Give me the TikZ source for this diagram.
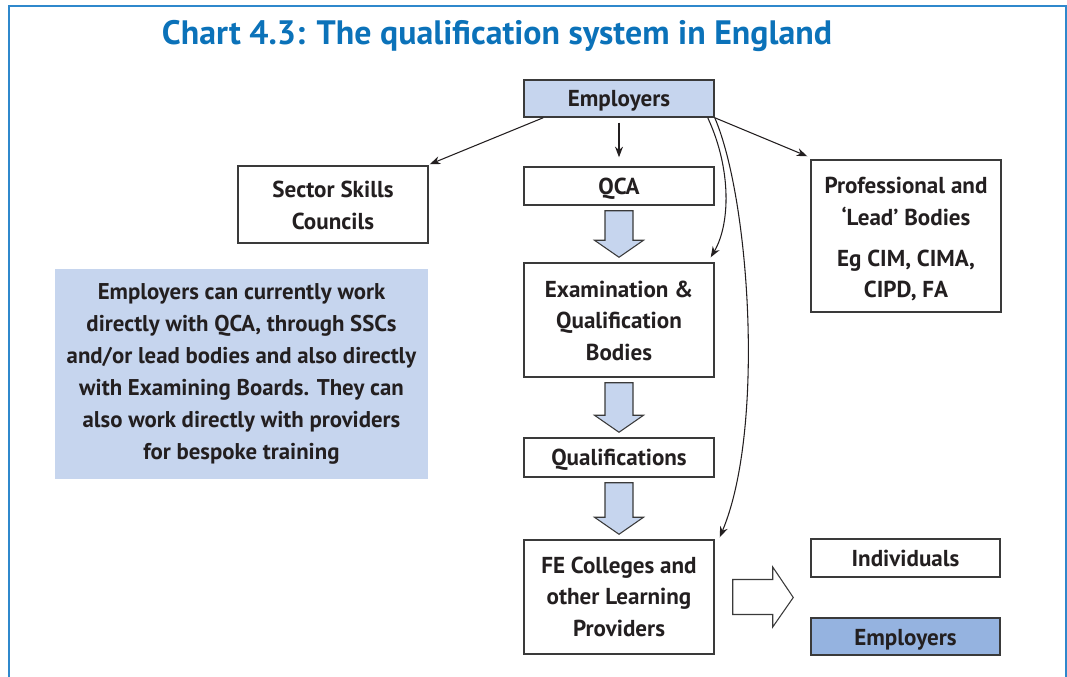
\documentclass[tikz,border=0pt]{standalone}
\usepackage{fontspec}
\setmainfont{PT Sans}
\usetikzlibrary{calc,arrows.meta}
\definecolor{frameblue}{HTML}{2F88CC}
\definecolor{titleblue}{HTML}{0B72B9}
\definecolor{lightfill}{HTML}{C6D5EE}
\definecolor{midfill}{HTML}{95B3E0}
\definecolor{boxline}{HTML}{3A3A3A}
\definecolor{txt}{HTML}{231F20}
\newcommand\dn[2][1.5pt]{\raisebox{-#1}[\height][\depth]{\begin{tabular}{@{}c@{}}#2\end{tabular}}}
\begin{document}
\begin{tikzpicture}[x=0.75pt,y=-0.75pt,
  box/.style={draw=boxline, line width=1.1pt, inner sep=0pt, align=center,
    font=\bfseries\fontsize{17.3}{23.6}\selectfont, text=txt, fill=white},
  wide/.style={minimum width=142.5pt},
  thinarrow/.style={draw=txt, line width=0.8pt, -{Stealth[length=8pt,width=6pt]}},
  blockarrow/.style={draw=boxline, line width=0.8pt, fill=lightfill, line join=miter},
  whitearrow/.style={draw=boxline, line width=0.8pt, fill=white, line join=miter}]
\useasboundingbox (0,0) rectangle (1067,677);
% frame
\draw[frameblue, line width=1.6pt] (9,677) -- (9,6) -- (1066,6) -- (1066,677);
% title
\node[font=\bfseries\fontsize{25.4}{30}\selectfont, text=titleblue] (title) at (497,36)
  {Chart 4.3: The qualification system in England};
% boxes
\node[box, wide, minimum height=27.75pt, fill=lightfill] (emp1) at (619,98.5) {\dn[1pt]{Employers}};
\node[box, wide, minimum height=28.5pt] (qca) at (619,186) {\dn{QCA}};
\node[box, wide, minimum height=85.5pt] (exam) at (619,320) {\dn[2pt]{Examination \&\\Qualification\\Bodies}};
\node[box, wide, minimum height=29.25pt] (qual) at (619,457.5) {\dn{Qualifications}};
\node[box, wide, minimum height=85.5pt] (fe) at (619,597) {\dn[1.2pt]{FE Colleges and\\other Learning\\Providers}};
\node[box, wide, minimum height=57.75pt] (ssc) at (333,204.5) {\dn[2.2pt]{Sector Skills\\Councils}};
\node[box, wide, minimum height=114pt] (prof) at (906,236)
  {\dn[2.6pt]{Professional and\\‘Lead’ Bodies\\[7.5pt]Eg CIM, CIMA,\\CIPD, FA}};
\node[box, minimum width=141.75pt, minimum height=28.5pt] (ind) at (905.5,558) {\dn[2pt]{Individuals}};
\node[box, minimum width=141.75pt, minimum height=27.75pt, fill=midfill] (emp2) at (905.5,636.5) {\dn[2pt]{Employers}};
\node[fill=lightfill, inner sep=0pt, minimum width=279.75pt, minimum height=156.75pt,
  align=center, text=txt, font=\bfseries\fontsize{17.1}{24}\selectfont] (note) at (241.5,374)
  {Employers can currently work\\directly with QCA, through SSCs\\and/or lead bodies and also directly\\with Examining Boards. They can\\also work directly with providers\\for bespoke training};
% thin arrows
\draw[thinarrow] ($(emp1.south west)+(20,0)$) -- ($(ssc.north east)+(1,-1)$);
\draw[thinarrow, shorten <=3.75pt, shorten >=6.75pt] (emp1.south) -- (qca.north);
\draw[thinarrow] (emp1.south east) -- ($(prof.north west)+(-3,-3)$);
\draw[thinarrow] ($(emp1.south east)+(-7,0)$) .. controls (732,170) and (730,225) .. ($(exam.north east)+(-4,-5)$);
\draw[thinarrow] (emp1.south east) .. controls (750,200) and (765,430) .. ($(fe.north east)+(5,-2)$);
% block arrows (down)
\foreach \a/\b in {qca/exam, exam/qual, qual/fe}{
  \draw[blockarrow] ($(\a.south)+(-14,5)$) -- ($(\b.north)+(-14,-22)$) -- ($(\b.north)+(-24.5,-22)$)
    -- ($(\b.north)+(0,-5)$) -- ($(\b.north)+(24.5,-22)$) -- ($(\b.north)+(14,-22)$)
    -- ($(\a.south)+(14,5)$) -- cycle;
}
% right block arrow
\coordinate (outs) at ($(ind.south west)!0.5!(emp2.north west)$);
\draw[whitearrow] ($(fe.east)+(18,-17.5)$) -- ($(fe.east)+(58,-17.5)$) -- ($(fe.east)+(58,-30)$)
  -- ($(outs)+(-17,0)$) -- ($(fe.east)+(58,30)$) -- ($(fe.east)+(58,17.5)$)
  -- ($(fe.east)+(18,17.5)$) -- cycle;
\end{tikzpicture}
\end{document}
